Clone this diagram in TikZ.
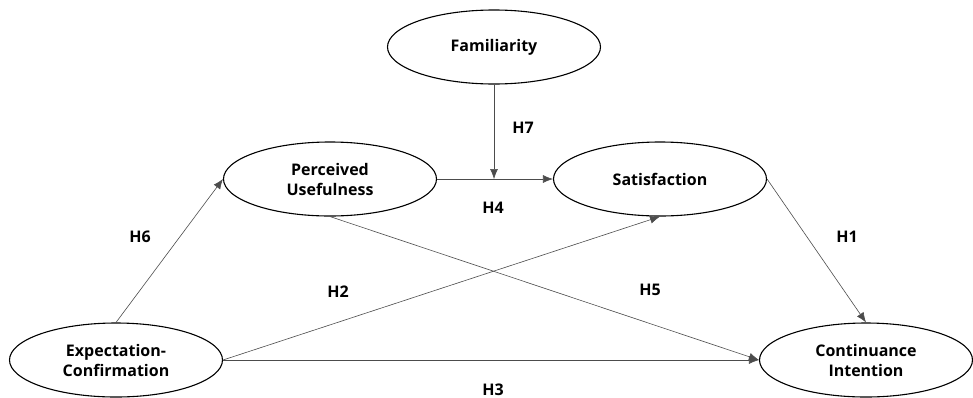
\documentclass[tikz,border=0pt]{standalone}
\usepackage{fontspec}
\setmainfont{Open Sans}
\usepackage{tikz}
\usetikzlibrary{shapes.geometric,arrows.meta}

\begin{document}
\begin{tikzpicture}[x=1pt,y=-1pt,
    construct/.style={ellipse,draw,line width=1.1pt,minimum width=213pt,minimum height=74pt,inner sep=0pt,align=center,font=\fontsize{16}{20}\selectfont\bfseries},
    hyp/.style={font=\fontsize{16}{20}\selectfont\bfseries},
    path/.style={draw=black!70,line width=0.6pt,-{Latex[length=10pt,width=8pt]}}]
            \useasboundingbox (0,0) rectangle (973,397);
            \node [style=construct] (F) at (494,47) {Familiarity};
            \node [style=construct] (PU) at (330,179) {Perceived\\Usefulness};
            \node [style=construct] (S) at (660,179) {Satisfaction};
            \node [style=construct] (EC) at (116,360) {Expectation-\\Confirmation};
            \node [style=construct] (CI) at (866,360) {Continuance\\Intention};
            \coordinate (M) at (494,179);

            \draw [style=path] (F) -- (M);
            \draw [style=path] (PU) -- (S);
            \draw [style=path] (EC.north) -- (PU.west);
            \draw [style=path] (EC.east) -- (S.south);
            \draw [style=path] (PU.south) -- (CI.west);
            \draw [style=path] (EC.east) -- (CI.west);
            \draw [style=path] (S.east) -- (CI.north);

            \node [style=hyp] (H7) at (523,128) {H7};
            \node [style=hyp] (H4) at (493,208) {H4};
            \node [style=hyp] (H6) at (140,237) {H6};
            \node [style=hyp] (H2) at (338,292) {H2};
            \node [style=hyp] (H5) at (650,290) {H5};
            \node [style=hyp] (H1) at (847,237) {H1};
            \node [style=hyp] (H3) at (493,390) {H3};
        \end{tikzpicture}
\end{document}
